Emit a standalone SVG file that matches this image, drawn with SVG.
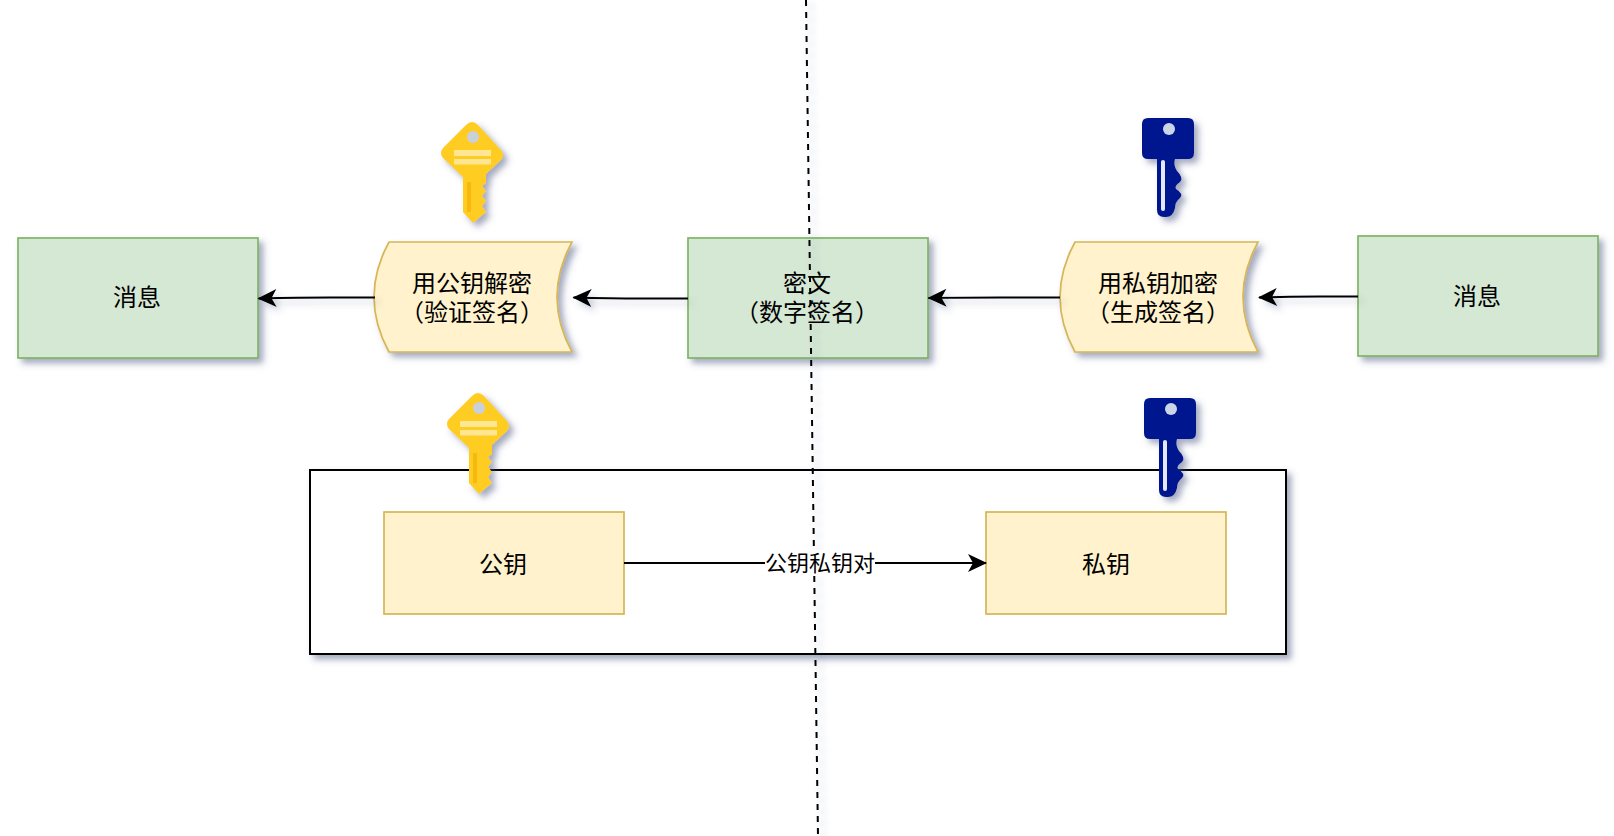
<svg xmlns="http://www.w3.org/2000/svg" width="1614" height="836" viewBox="0 0 1614 836">
<style>
text{font-family:"Liberation Sans","Noto Sans CJK SC",sans-serif;font-size:24px;fill:#000;text-anchor:middle}
.green{fill:#d5e8d4;stroke:#82b366;stroke-width:1.700}
.yellow{fill:#fff2cc;stroke:#d6b656;stroke-width:1.700}
.line{fill:none;stroke:#000;stroke-width:2}
.sh{filter:url(#shadow)}
</style>
<defs>
<filter id="shadow" x="-20%" y="-20%" width="150%" height="150%" filterUnits="objectBoundingBox">
<feDropShadow dx="4.500" dy="4.500" stdDeviation="3" flood-color="#4a5580" flood-opacity="0.5"/>
</filter>
<filter id="lineshadow" x="-5" y="-5" width="1700" height="900" filterUnits="userSpaceOnUse">
<feDropShadow dx="4.500" dy="4.500" stdDeviation="3" flood-color="#4a5580" flood-opacity="0.3"/>
</filter>
<marker id="arrow" markerUnits="userSpaceOnUse" markerWidth="22" markerHeight="20" viewBox="0 0 22 20" refX="19" refY="10" orient="auto">
<path d="M20 10 L1 1 L6 10 L1 19 Z" fill="#000"/>
</marker>
<g id="keyY">
<path d="M32 0 Q35 0 38 3 L61 28 Q65 33 61 38 L46 52 L46 61 L42 64 L46 69 L42 74 L46 79 L42 84 L46 90 L33 101 L23 90 L23 55 L3 36 Q-1 31 3 26 L26 3 Q29 0 32 0 Z" fill="#ffcc24"/>
<circle cx="33" cy="15" r="6" fill="#c9d0dc"/>
<rect x="14" y="28" width="37" height="6" fill="#ffe693"/>
<rect x="14" y="37" width="37" height="5.500" fill="#ffe693"/>
<rect x="27" y="60" width="4" height="30" fill="#f7b90f"/>
</g>
<g id="keyB">
<path d="M6 0 H46 Q52 0 52 6 V35 Q52 41 46 41 H33 Q31 47 35 53 Q42 60 38 64 Q32 68 34 71 Q42 76 38 80 Q33 84 33 90 Q31 99 24 99 H22 Q15 99 15 92 V41 H6 Q0 41 0 35 V6 Q0 0 6 0 Z" fill="#00188f"/>
<circle cx="27" cy="11" r="6" fill="#ccd4e8"/>
<rect x="19" y="42" width="4" height="51" rx="2" fill="#e4e8f4"/>
</g>
</defs>
<rect width="1614" height="836" fill="#fff"/>
<g id="keypair-box"><rect class="sh" x="310" y="470" width="976" height="184" fill="#fff" stroke="#000" stroke-width="2"/></g>
<g id="msg-left"><rect class="green sh" x="18" y="238" width="240" height="120"/><text x="137" y="306">消息</text></g>
<g id="decrypt"><path class="yellow sh" d="M389 242 H572 Q542 297 572 352 H389 Q359 297 389 242 Z"/><text x="472" y="292">用公钥解密</text><text x="472" y="321">（验证签名）</text></g>
<g id="cipher"><rect class="green sh" x="688" y="238" width="240" height="120"/><text x="807" y="292">密文</text><text x="807" y="321">（数字签名）</text></g>
<g id="encrypt"><path class="yellow sh" d="M1075 242 H1258 Q1228 297 1258 352 H1075 Q1045 297 1075 242 Z"/><text x="1158" y="292">用私钥加密</text><text x="1158" y="321">（生成签名）</text></g>
<g id="msg-right"><rect class="green sh" x="1358" y="236" width="240" height="120"/><text x="1477" y="305">消息</text></g>
<g id="public-key"><rect class="yellow" x="384" y="512" width="240" height="102"/><text x="503" y="573">公钥</text></g>
<g id="private-key"><rect class="yellow" x="986" y="512" width="240" height="102"/><text x="1106" y="573">私钥</text></g>
<g id="connectors">
<g filter="url(#lineshadow)">
<path class="line" stroke-dasharray="6 6" d="M806 0 L818 836"/>
<path class="line" marker-end="url(#arrow)" d="M375 297.500 H330 Q300 297.500 258.500 298.500"/>
<path class="line" marker-end="url(#arrow)" d="M688 298.500 H640 Q610 298.500 573.500 297.500"/>
<path class="line" marker-end="url(#arrow)" d="M1060 297.500 H1000 Q970 297.500 928.500 298"/>
<path class="line" marker-end="url(#arrow)" d="M1358 296.500 H1320 Q1290 296.500 1259 297.500"/>
</g>
<path class="line" marker-end="url(#arrow)" d="M624 563 H986"/>
<g id="edge-label"><rect x="765" y="550" width="110" height="26" fill="#fff"/><text x="820" y="571" style="font-size:22px">公钥私钥对</text></g>
</g>
<g id="key-yellow-top" class="sh"><use href="#keyY" x="440" y="122"/></g>
<g id="key-blue-top" class="sh"><use href="#keyB" x="1142" y="118"/></g>
<g id="key-yellow-bottom" class="sh"><use href="#keyY" x="446" y="393"/></g>
<g id="key-blue-bottom" class="sh"><use href="#keyB" x="1144" y="398"/></g>
</svg>
